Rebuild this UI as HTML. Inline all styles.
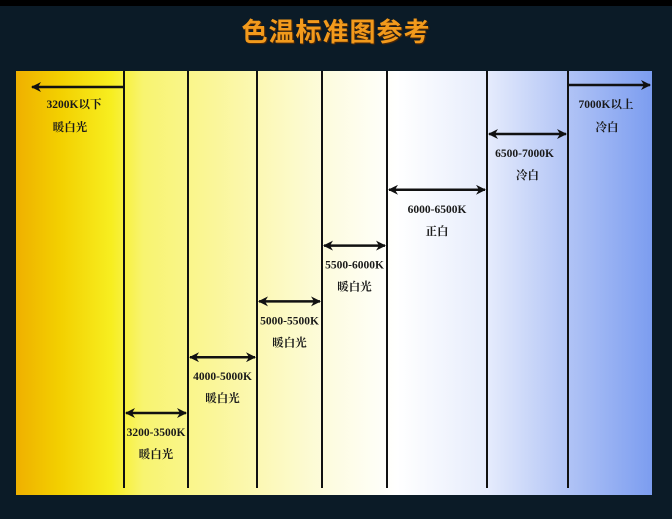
<!DOCTYPE html>
<html><head><meta charset="utf-8">
<style>
body{margin:0;width:672px;height:519px;background:#0b1b27;overflow:hidden;font-family:"Liberation Serif","Noto Serif CJK SC",serif;}
#top{position:absolute;left:0;top:0;width:672px;height:6px;background:#000;}
#title{position:absolute;left:0;top:12px;width:672px;text-align:center;font-family:"Liberation Sans","Noto Sans CJK SC",sans-serif;font-weight:bold;font-size:26px;color:#f29a1c;text-shadow:1px 1px 1px #5a2a00;letter-spacing:1px;}
</style></head><body>
<div id="top"></div>
<div id="title">色温标准图参考</div>
<svg id="chart" width="672" height="519" style="position:absolute;left:0;top:0">
<defs>
<linearGradient id="g" x1="16" x2="652" y1="0" y2="0" gradientUnits="userSpaceOnUse">
<stop offset="0" stop-color="#efb000"/>
<stop offset="0.07" stop-color="#f3d000"/>
<stop offset="0.15" stop-color="#f7ee20"/>
<stop offset="0.2" stop-color="#f8f470"/>
<stop offset="0.35" stop-color="#fbf7a8"/>
<stop offset="0.5" stop-color="#fdfce2"/>
<stop offset="0.6" stop-color="#ffffff"/>
<stop offset="0.74" stop-color="#e6ecfc"/>
<stop offset="0.86" stop-color="#b4c6f6"/>
<stop offset="1" stop-color="#7c9df0"/>
</linearGradient>
<marker id="ah" markerWidth="10" markerHeight="10" refX="9" refY="5" orient="auto-start-reverse" markerUnits="userSpaceOnUse"><path d="M0,0 L10,5 L0,10 L3,5 Z" fill="#111"/></marker>
</defs>
<rect x="16" y="71" width="636" height="424" fill="url(#g)"/>
<g id="lines"></g><g id="arrows"></g><g id="labels"></g>
</svg>
<script>
const boundaries=[3200,3500,4000,5000,5500,6000,6500,7000];
const rangeLabels=["3200-3500K","4000-5000K","5000-5500K","5500-6000K","6000-6500K","6500-7000K"];
const rangeNames=["暖白光","暖白光","暖白光","暖白光","正白","冷白"];
const rangeLevels=[0,1,2,3,4,5];
const boundaryX=[124,188,257,322,387,487,568];
const ns="http://www.w3.org/2000/svg";
function mk(t,a,p){const e=document.createElementNS(ns,t);for(const k in a)e.setAttribute(k,a[k]);p.appendChild(e);return e;}
const yOf=l=>413-l*55.8;
const L=document.getElementById('lines'),A=document.getElementById('arrows'),T=document.getElementById('labels');
boundaryX.forEach((x,i)=>{const e=mk('line',{x1:x,x2:x,y1:71,y2:488,stroke:'#111','stroke-width':2},L);

});
function txt(x,y,s,name){const e=mk('text',{x:x,y:y,'font-size':11.5,'font-weight':'bold',fill:'#1a1a1a','text-anchor':'middle'},T);e.textContent=s;

}
rangeLabels.forEach((lab,i)=>{
 const x1=boundaryX[i],x2=boundaryX[i+1],y=yOf(rangeLevels[i]);
 const a=mk('line',{x1:x1+2,x2:x2-2,y1:y,y2:y,stroke:'#111','stroke-width':2.5,'marker-start':'url(#ah)','marker-end':'url(#ah)'},A);
 
 
 const cx=(x1+x2)/2;
 txt(cx+(i===5?-3:0),y+23,lab,'range-label');
 txt(cx,y+45,rangeNames[i],'range-name');
});
const la=mk('line',{x1:124,x2:32,y1:87,y2:87,stroke:'#111','stroke-width':2.5,'marker-end':'url(#ah)'},A);


const ra=mk('line',{x1:568,x2:650,y1:85,y2:85,stroke:'#111','stroke-width':2.5,'marker-end':'url(#ah)'},A);


txt(74,108,"3200K以下",'below-label');txt(70,131,"暖白光",'below-name');
txt(606,108,"7000K以上",'above-label');txt(607,131,"冷白",'above-name');
</script>
</body></html>
